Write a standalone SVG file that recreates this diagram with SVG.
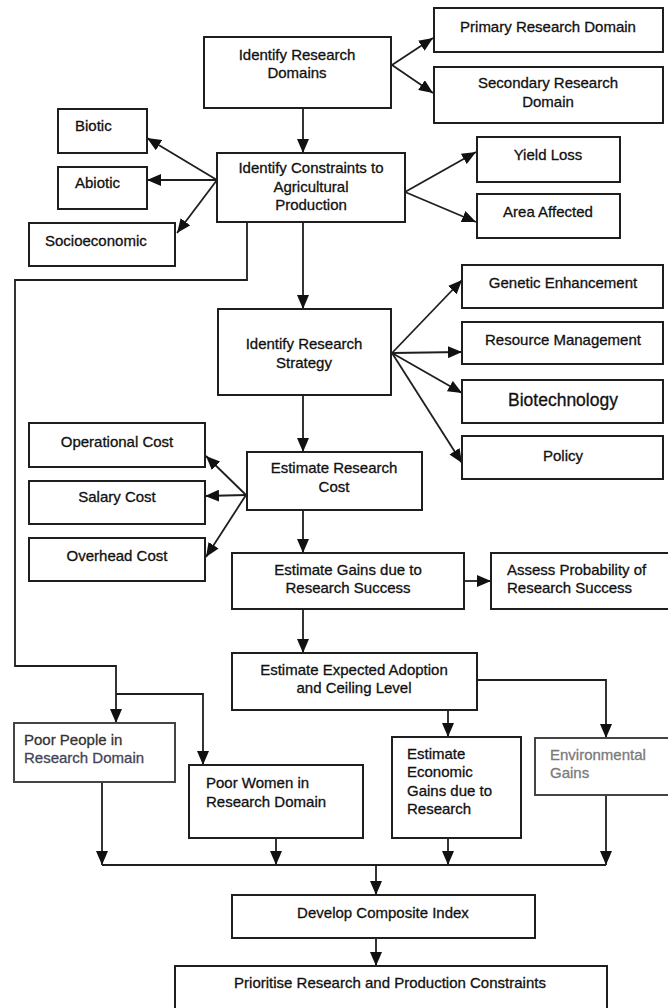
<svg xmlns="http://www.w3.org/2000/svg" width="668" height="1008" viewBox="0 0 668 1008">
<defs>
<style>
.b{fill:#fff;stroke:#1e1e1e;stroke-width:2}
.t{font-family:"Liberation Sans",Arial,sans-serif;font-size:15px;fill:#111;stroke:#111;stroke-width:0.3}
.c{text-anchor:middle}
.g{fill:#7a7a7a;stroke:#7a7a7a}
.l{fill:none;stroke:#1e1e1e;stroke-width:1.8}
</style>
<marker id="a" markerUnits="userSpaceOnUse" markerWidth="14" markerHeight="12" refX="14" refY="6" orient="auto">
<path d="M0,0 L14,6 L0,12 z" fill="#111"/>
</marker>
</defs>
<rect width="668" height="1008" fill="#fff"/>
<g id="connectors">
<path class="l" d="M303,108 V153" marker-end="url(#a)"/>
<path class="l" d="M392,65 L433,38" marker-end="url(#a)"/>
<path class="l" d="M392,65 L433,93" marker-end="url(#a)"/>
<path class="l" d="M217,180 L147,138" marker-end="url(#a)"/>
<path class="l" d="M217,180 L147,180" marker-end="url(#a)"/>
<path class="l" d="M217,180 L177,233" marker-end="url(#a)"/>
<path class="l" d="M405,192 L476,152" marker-end="url(#a)"/>
<path class="l" d="M405,192 L476,222" marker-end="url(#a)"/>
<path class="l" d="M303,222 V309" marker-end="url(#a)"/>
<path class="l" d="M247,222 V280 H15 V666 H116 V723" marker-end="url(#a)"/>
<path class="l" d="M116,694 H203 V765" marker-end="url(#a)"/>
<path class="l" d="M392,353 L462,280" marker-end="url(#a)"/>
<path class="l" d="M392,353 L462,352" marker-end="url(#a)"/>
<path class="l" d="M392,353 L462,393" marker-end="url(#a)"/>
<path class="l" d="M392,353 L462,463" marker-end="url(#a)"/>
<path class="l" d="M303,395 V452" marker-end="url(#a)"/>
<path class="l" d="M246,495 L206,456" marker-end="url(#a)"/>
<path class="l" d="M246,495 L205,496" marker-end="url(#a)"/>
<path class="l" d="M246,495 L206,557" marker-end="url(#a)"/>
<path class="l" d="M303,510 V553" marker-end="url(#a)"/>
<path class="l" d="M464,581 H491" marker-end="url(#a)"/>
<path class="l" d="M303,609 V653" marker-end="url(#a)"/>
<path class="l" d="M448,710 V737" marker-end="url(#a)"/>
<path class="l" d="M477,680 H606 V738" marker-end="url(#a)"/>
<path class="l" d="M102,782 V865" marker-end="url(#a)"/>
<path class="l" d="M276,838 V865" marker-end="url(#a)"/>
<path class="l" d="M448,838 V865" marker-end="url(#a)"/>
<path class="l" d="M606,795 V865" marker-end="url(#a)"/>
<path class="l" d="M102,865 H606"/>
<path class="l" d="M376,865 V895" marker-end="url(#a)"/>
<path class="l" d="M376,938 V966" marker-end="url(#a)"/>
</g>
<g id="n-ird"><rect class="b" x="204" y="37" width="187" height="71"/><text class="t c" x="297" y="60">Identify Research</text><text class="t c" x="297" y="78">Domains</text></g>
<g id="n-primary"><rect class="b" x="434" y="8" width="229" height="44"/><text class="t c" x="548" y="32">Primary Research Domain</text></g>
<g id="n-secondary"><rect class="b" x="434" y="67" width="229" height="56"/><text class="t c" x="548" y="88">Secondary Research</text><text class="t c" x="548" y="107">Domain</text></g>
<g id="n-biotic"><rect class="b" x="58" y="109" width="89" height="44"/><text class="t" x="75" y="131">Biotic</text></g>
<g id="n-abiotic"><rect class="b" x="58" y="167" width="89" height="42"/><text class="t" x="75" y="188">Abiotic</text></g>
<g id="n-socio"><rect class="b" x="29" y="223" width="146" height="43"/><text class="t" x="45" y="246">Socioeconomic</text></g>
<g id="n-icp"><rect class="b" x="217" y="153" width="188" height="69"/><text class="t c" x="311" y="173">Identify Constraints to</text><text class="t c" x="311" y="192">Agricultural</text><text class="t c" x="311" y="210">Production</text></g>
<g id="n-yield"><rect class="b" x="477" y="137" width="143" height="45"/><text class="t c" x="548" y="160">Yield Loss</text></g>
<g id="n-area"><rect class="b" x="477" y="194" width="143" height="44"/><text class="t c" x="548" y="217">Area Affected</text></g>
<g id="n-irs"><rect class="b" x="218" y="309" width="173" height="86"/><text class="t c" x="304" y="349">Identify Research</text><text class="t c" x="304" y="368">Strategy</text></g>
<g id="n-genetic"><rect class="b" x="462" y="265" width="201" height="43"/><text class="t c" x="563" y="288">Genetic Enhancement</text></g>
<g id="n-resource"><rect class="b" x="462" y="322" width="201" height="42"/><text class="t c" x="563" y="345">Resource Management</text></g>
<g id="n-biotech"><rect class="b" x="462" y="380" width="201" height="43"/><text class="t c" x="563" y="406" style="font-size:17.5px">Biotechnology</text></g>
<g id="n-policy"><rect class="b" x="462" y="436" width="201" height="43"/><text class="t c" x="563" y="461">Policy</text></g>
<g id="n-operational"><rect class="b" x="29" y="423" width="176" height="44"/><text class="t c" x="117" y="447">Operational Cost</text></g>
<g id="n-salary"><rect class="b" x="29" y="481" width="176" height="43"/><text class="t c" x="117" y="502">Salary Cost</text></g>
<g id="n-overhead"><rect class="b" x="29" y="538" width="176" height="43"/><text class="t c" x="117" y="561">Overhead Cost</text></g>
<g id="n-erc"><rect class="b" x="247" y="452" width="175" height="58"/><text class="t c" x="334" y="473">Estimate Research</text><text class="t c" x="334" y="492">Cost</text></g>
<g id="n-eg"><rect class="b" x="232" y="553" width="232" height="56"/><text class="t c" x="348" y="575">Estimate Gains due to</text><text class="t c" x="348" y="593">Research Success</text></g>
<g id="n-assess"><rect class="b" x="491" y="553" width="180" height="56"/><text class="t" x="507" y="575">Assess Probability of</text><text class="t" x="507" y="593">Research Success</text></g>
<g id="n-eea"><rect class="b" x="232" y="653" width="245" height="57"/><text class="t c" x="354" y="675">Estimate Expected Adoption</text><text class="t c" x="354" y="693">and Ceiling Level</text></g>
<g id="n-poorpeople"><rect class="b" x="14" y="723" width="161" height="59" style="stroke:#444"/><text class="t" x="24" y="745" style="fill:#333;stroke:#333">Poor People in</text><text class="t" x="24" y="763" style="fill:#445;stroke:#445">Research Domain</text></g>
<g id="n-poorwomen"><rect class="b" x="189" y="765" width="174" height="73"/><text class="t" x="206" y="788">Poor Women in</text><text class="t" x="206" y="807">Research Domain</text></g>
<g id="n-econ"><rect class="b" x="392" y="737" width="129" height="101"/><text class="t" x="407" y="759">Estimate</text><text class="t" x="407" y="777">Economic</text><text class="t" x="407" y="796">Gains due to</text><text class="t" x="407" y="814">Research</text></g>
<g id="n-env"><rect class="b" x="535" y="738" width="136" height="57" style="stroke:#444"/><text class="t g" x="550" y="760">Environmental</text><text class="t g" x="550" y="778">Gains</text></g>
<g id="n-dci"><rect class="b" x="232" y="895" width="303" height="43"/><text class="t c" x="383" y="918">Develop Composite Index</text></g>
<g id="n-prio"><rect class="b" x="175" y="966" width="432" height="45"/><text class="t c" x="390" y="988">Prioritise Research and Production Constraints</text></g>
</svg>
